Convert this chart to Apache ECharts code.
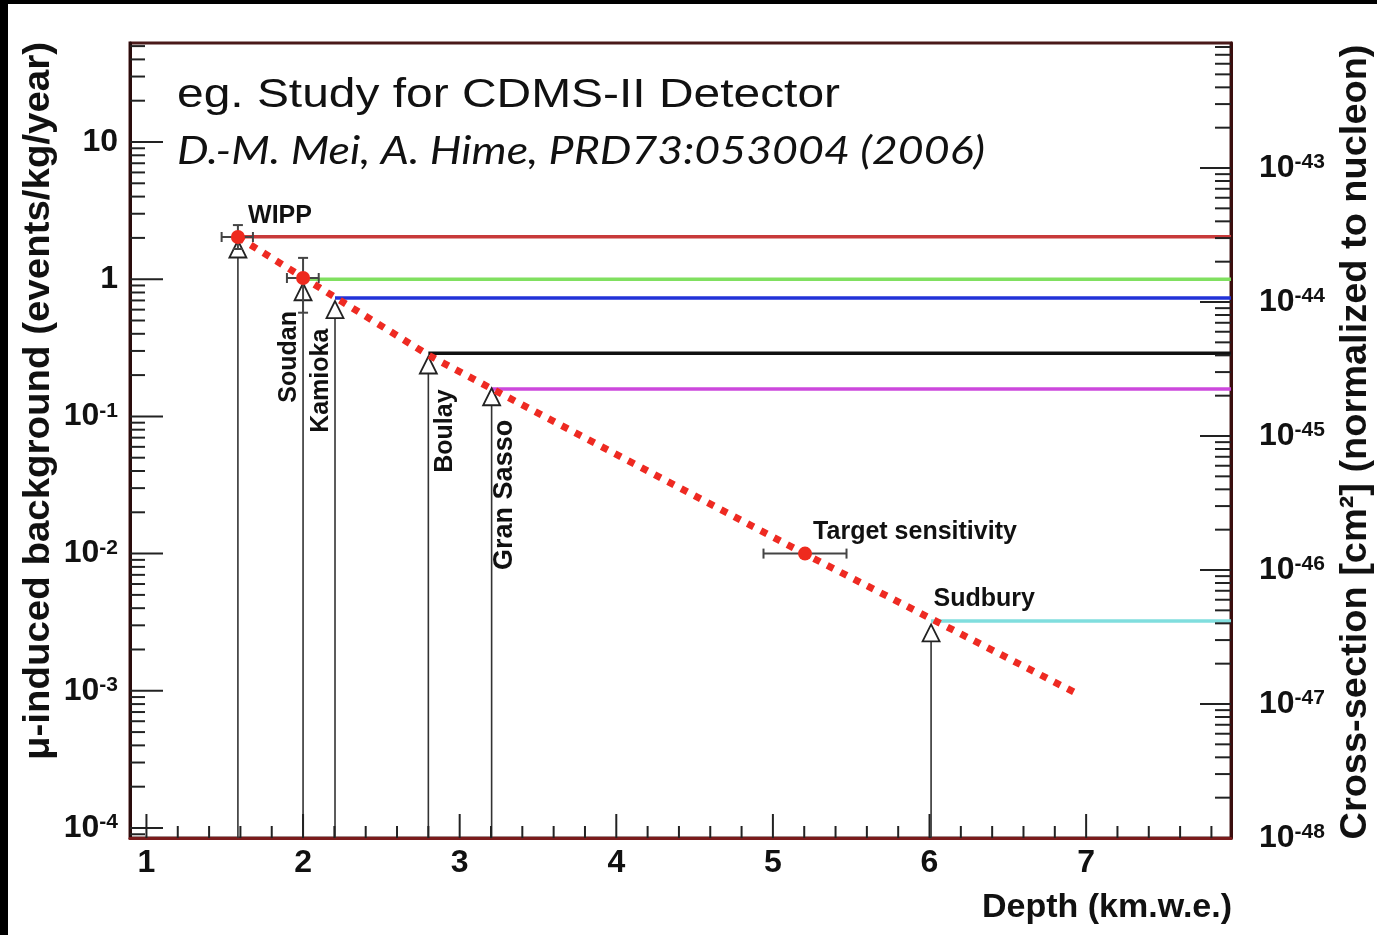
<!DOCTYPE html>
<html>
<head>
<meta charset="utf-8">
<script src="https://cdn.jsdelivr.net/npm/echarts@6/dist/echarts.min.js"></script>
<style>
  html, body { margin: 0; padding: 0; background: #fff; }
  #chart { width: 1377px; height: 935px; }
</style>
</head>
<body>
<div id="chart"></div>
<script>
// ---------------- DATA ----------------
const sites = ['WIPP', 'Soudan', 'Kamioka', 'Boulay', 'Gran Sasso', 'Sudbury'];
const siteDepth = [1.584, 2.0, 2.204, 2.80, 3.204, 6.01];                 // km.w.e.
const siteBackground = [1.66, 0.81, 0.60, 0.237, 0.139, 0.00264];         // events/kg/year
const siteCrossSection = [3.07e-44, 1.48e-44, 1.07e-44, 4.14e-45, 2.24e-45, 4.16e-47]; // cm^2

const pointNames = ['WIPP', 'Soudan', 'Target sensitivity'];
const pointDepth = [1.584, 2.0, 5.205];
const pointBackground = [2.03, 1.02, 0.0100];
const pointDepthLow = [1.48, 1.897, 4.94];
const pointDepthHigh = [1.68, 2.10, 5.47];
const pointBackgroundLow = [1.66, 0.57, null];
const pointBackgroundHigh = [2.48, 1.43, null];

const fitDepth = [1.584, 2.0, 2.8, 3.2, 4.0, 5.2, 6.0, 6.96];
const fitBackground = [2.03, 1.03, 0.280, 0.160, 0.0528, 0.0100, 0.0034, 0.00093];

const xTickLabels = [1, 2, 3, 4, 5, 6, 7];
const leftDecades = [-4, -3, -2, -1, 0, 1];
const rightDecades = [-48, -47, -46, -45, -44, -43];

// ---------------- STYLE ----------------
const X_MIN = 0.895, X_MAX = 7.925;
const L_MIN = -4.073, L_MAX = 1.7216;
const R_MIN = -48, R_MAX = -42.067;
const siteColors = ['#c83a3a', '#80e060', '#2232d8', '#111111', '#cc48dc', '#80dede'];
const siteLabelPlacement = [[43, -32, 0], [-13, 66, 90], [-13, 72, 90], [18, 67, 90], [14, 99, 90], [54, -33, 0]];
const pointLabelPlacement = [null, null, [110, -21, 0]];
const FONT = '"Liberation Sans", Arial, Helvetica, sans-serif';

const lg = v => Math.log10(v);
const isInt = v => Math.abs(v - Math.round(v)) < 1e-6;

// ticks
const leftTicks = [], rightTicks = [], bottomTicks = [];
leftDecades.concat([-5]).forEach(n => {
  if (n >= L_MIN - 1e-9 && n <= L_MAX) leftTicks.push([n, 33]);
  for (let k = 2; k <= 9; k++) { const v = n + lg(k); if (v > L_MIN && v < L_MAX) leftTicks.push([v, 15]); }
});
rightDecades.forEach(n => {
  if (n > R_MIN + 1e-9) rightTicks.push([n, 31]);
  for (let k = 2; k <= 9; k++) { const v = n + lg(k); if (v > R_MIN && v < R_MAX) rightTicks.push([v, 16]); }
});
xTickLabels.forEach(n => {
  bottomTicks.push([n, 24]);
  for (let k = 1; k <= 4; k++) { const v = n + k * 0.2; if (v < X_MAX) bottomTicks.push([v, 12]); }
});

function tickSeries(data, side) {
  return {
    type: 'custom', data: data, z: 10, silent: true,
    yAxisIndex: side === 'right' ? 1 : 0,
    renderItem: function (params, api) {
      const v = api.value(0), len = api.value(1);
      let p, shape;
      if (side === 'left') { p = api.coord([X_MIN, v]); shape = { x1: p[0], y1: p[1], x2: p[0] + len, y2: p[1] }; }
      else if (side === 'right') { p = api.coord([X_MAX, v]); shape = { x1: p[0], y1: p[1], x2: p[0] - len, y2: p[1] }; }
      else { p = api.coord([v, L_MIN]); shape = { x1: p[0], y1: p[1], x2: p[0], y2: p[1] - len }; }
      return { type: 'line', shape: shape, style: { stroke: '#222', lineWidth: 2 } };
    }
  };
}

function supLabel(v) {
  if (!isInt(v)) return '';
  const n = Math.round(v);
  if (n === 0) return '1';
  if (n === 1) return '10';
  return '10{s|' + n + '}';
}
const supRich = { s: { fontSize: 21, fontWeight: 'bold', fontFamily: FONT, color: '#111', verticalAlign: 'top', padding: [0, 0, 6, 0] } };

// series
const series = [];
// stems
series.push({
  type: 'custom', z: 2, silent: true,
  data: siteDepth.map((d, i) => [d, lg(siteBackground[i])]),
  renderItem: function (params, api) {
    const a = api.coord([api.value(0), L_MIN]), b = api.coord([api.value(0), api.value(1)]);
    return { type: 'line', shape: { x1: a[0], y1: a[1], x2: b[0], y2: b[1] }, style: { stroke: '#333', lineWidth: 1.6 } };
  }
});
// sensitivity lines (right axis)
sites.forEach((s, i) => {
  series.push({
    type: 'line', yAxisIndex: 1, z: 3, silent: true, symbol: 'none',
    data: [[siteDepth[i], lg(siteCrossSection[i])], [X_MAX, lg(siteCrossSection[i])]],
    lineStyle: { color: siteColors[i], width: 3.5 }
  });
});
// fit line
series.push({
  type: 'line', z: 6, silent: true, symbol: 'none',
  data: fitDepth.map((d, i) => [d, lg(fitBackground[i])]),
  lineStyle: { color: '#ee2a22', width: 7, type: [7, 8], cap: 'butt' }
});
// triangles
series.push({
  type: 'scatter', z: 5, silent: true, symbol: 'triangle', symbolSize: [17, 17],
  itemStyle: { color: '#ffffff', borderColor: '#222', borderWidth: 1.8, opacity: 1 },
  data: sites.map((s, i) => {
    const pl = siteLabelPlacement[i];
    return {
      value: [siteDepth[i], lg(siteBackground[i])],
      label: {
        show: true, formatter: s, position: [8.5 + pl[0], 8.5 + pl[1]], rotate: pl[2],
        align: 'center', verticalAlign: 'middle',
        fontFamily: FONT, fontWeight: 'bold', fontSize: s === 'Gran Sasso' ? 27 : 25, color: '#111'
      }
    };
  })
});
// error bars
series.push({
  type: 'custom', z: 7, silent: true,
  data: pointDepth.map((d, i) => [d, lg(pointBackground[i]), pointDepthLow[i], pointDepthHigh[i],
    pointBackgroundLow[i] == null ? '-' : lg(pointBackgroundLow[i]),
    pointBackgroundHigh[i] == null ? '-' : lg(pointBackgroundHigh[i])]),
  renderItem: function (params, api) {
    const x = api.value(0), y = api.value(1), xl = api.value(2), xh = api.value(3), yl = api.value(4), yh = api.value(5);
    const st = { stroke: '#444', lineWidth: 2 };
    const cap = 5, ch = [];
    if (!isNaN(xl)) {
      const a = api.coord([xl, y]), b = api.coord([xh, y]);
      ch.push({ type: 'line', shape: { x1: a[0], y1: a[1], x2: b[0], y2: b[1] }, style: st });
      ch.push({ type: 'line', shape: { x1: a[0], y1: a[1] - cap, x2: a[0], y2: a[1] + cap }, style: st });
      ch.push({ type: 'line', shape: { x1: b[0], y1: b[1] - cap, x2: b[0], y2: b[1] + cap }, style: st });
    }
    if (!isNaN(yl)) {
      const a = api.coord([x, yl]), b = api.coord([x, yh]);
      ch.push({ type: 'line', shape: { x1: a[0], y1: a[1], x2: b[0], y2: b[1] }, style: st });
      ch.push({ type: 'line', shape: { x1: a[0] - cap, y1: a[1], x2: a[0] + cap, y2: a[1] }, style: st });
      ch.push({ type: 'line', shape: { x1: b[0] - cap, y1: b[1], x2: b[0] + cap, y2: b[1] }, style: st });
    }
    return { type: 'group', children: ch };
  }
});
// red points
series.push({
  type: 'scatter', z: 8, silent: true, symbol: 'circle', symbolSize: 14,
  itemStyle: { color: '#ee2a1e', opacity: 1 },
  data: pointDepth.map((d, i) => {
    const pl = pointLabelPlacement[i];
    const item = { value: [d, lg(pointBackground[i])] };
    if (pl) item.label = {
      show: true, formatter: pointNames[i], position: [7 + pl[0], 7 + pl[1]], rotate: pl[2],
      align: 'center', verticalAlign: 'middle', fontFamily: FONT, fontWeight: 'bold', fontSize: 25, color: '#111'
    };
    return item;
  })
});
series.push(tickSeries(leftTicks, 'left'));
series.push(tickSeries(rightTicks, 'right'));
series.push(tickSeries(bottomTicks, 'bottom'));

// text fitting
const mctx = document.createElement('canvas').getContext('2d');
function fitScale(text, font, target) { mctx.font = font; return target / mctx.measureText(text).width; }

const title1 = 'eg. Study for CDMS-II Detector';
const title1Font = '40px ' + FONT;
const title2 = 'D.-M. Mei, A. Hime, PRD73:053004 (2006)';
const title2Font = 'italic 38px Lato, "Open Sans", sans-serif';
const yTitle = 'μ-induced background (events/kg/year)';
const yTitleFont = 'bold 37px ' + FONT;
const y2Title = 'Cross-section [cm²] (normalized to nucleon)';
const y2TitleFont = 'bold 37px ' + FONT;
const xTitle = 'Depth (km.w.e.)';
const xTitleFont = 'bold 34px ' + FONT;

function gtext(text, font, x, y, align, rot, sx) {
  return {
    type: 'text', x: x, y: y, rotation: rot || 0, scaleX: sx || 1, silent: true, z: 20,
    style: { text: text, font: font, fill: '#111', align: align, verticalAlign: 'middle', textAlign: align, textVerticalAlign: 'middle' }
  };
}

const option = {
  animation: false,
  backgroundColor: '#ffffff',
  grid: { left: 130, top: 43, right: 146, bottom: 97, show: true, borderColor: '#4a1a1a', borderWidth: 3, backgroundColor: 'transparent', containLabel: false, outerBoundsMode: 'none' },
  xAxis: {
    type: 'value', min: X_MIN, max: X_MAX, splitLine: { show: false },
    axisLine: { show: true, onZero: false, lineStyle: { color: '#7a1c1c', width: 3 } },
    axisTick: { show: false },
    axisLabel: { formatter: v => isInt(v) ? String(Math.round(v)) : '', fontFamily: FONT, fontWeight: 'bold', fontSize: 32, color: '#111', margin: 9, hideOverlap: false, showMinLabel: true, showMaxLabel: true }
  },
  yAxis: [{
    type: 'value', min: L_MIN, max: L_MAX, splitNumber: 5, position: 'left', splitLine: { show: false },
    axisLine: { show: true, onZero: false, lineStyle: { color: '#2a0c0c', width: 3 } },
    axisTick: { show: false },
    axisLabel: { formatter: supLabel, rich: supRich, fontFamily: FONT, fontWeight: 'bold', fontSize: 32, color: '#111', margin: 12, hideOverlap: false }
  }, {
    type: 'value', min: R_MIN, max: R_MAX, interval: 1, position: 'right', splitLine: { show: false },
    axisLine: { show: true, onZero: false, lineStyle: { color: '#3a0e0e', width: 3 } },
    axisTick: { show: false },
    axisLabel: { formatter: supLabel, rich: supRich, fontFamily: FONT, fontWeight: 'bold', fontSize: 32, color: '#111', margin: 28, hideOverlap: false }
  }],
  graphic: [
    { type: 'rect', shape: { x: 0, y: 0, width: 1377, height: 4 }, style: { fill: '#000' }, silent: true, z: 30 },
    { type: 'rect', shape: { x: 0, y: 0, width: 8, height: 935 }, style: { fill: '#000' }, silent: true, z: 30 },
    gtext(title1, title1Font, 177, 96, 'left', 0, fitScale(title1, title1Font, 663)),
    gtext(title2, title2Font, 177, 152, 'left', 0, fitScale(title2, title2Font, 808)),
    gtext(yTitle, yTitleFont, 39, 401, 'center', Math.PI / 2, fitScale(yTitle, yTitleFont, 718)),
    gtext(y2Title, y2TitleFont, 1356, 442, 'center', Math.PI / 2, fitScale(y2Title, y2TitleFont, 795)),
    gtext(xTitle, xTitleFont, 1232, 908, 'right', 0, 1)
  ],
  series: series
};

const chart = echarts.init(document.getElementById('chart'), null, { renderer: 'canvas' });
chart.setOption(option);
</script>
</body>
</html>
